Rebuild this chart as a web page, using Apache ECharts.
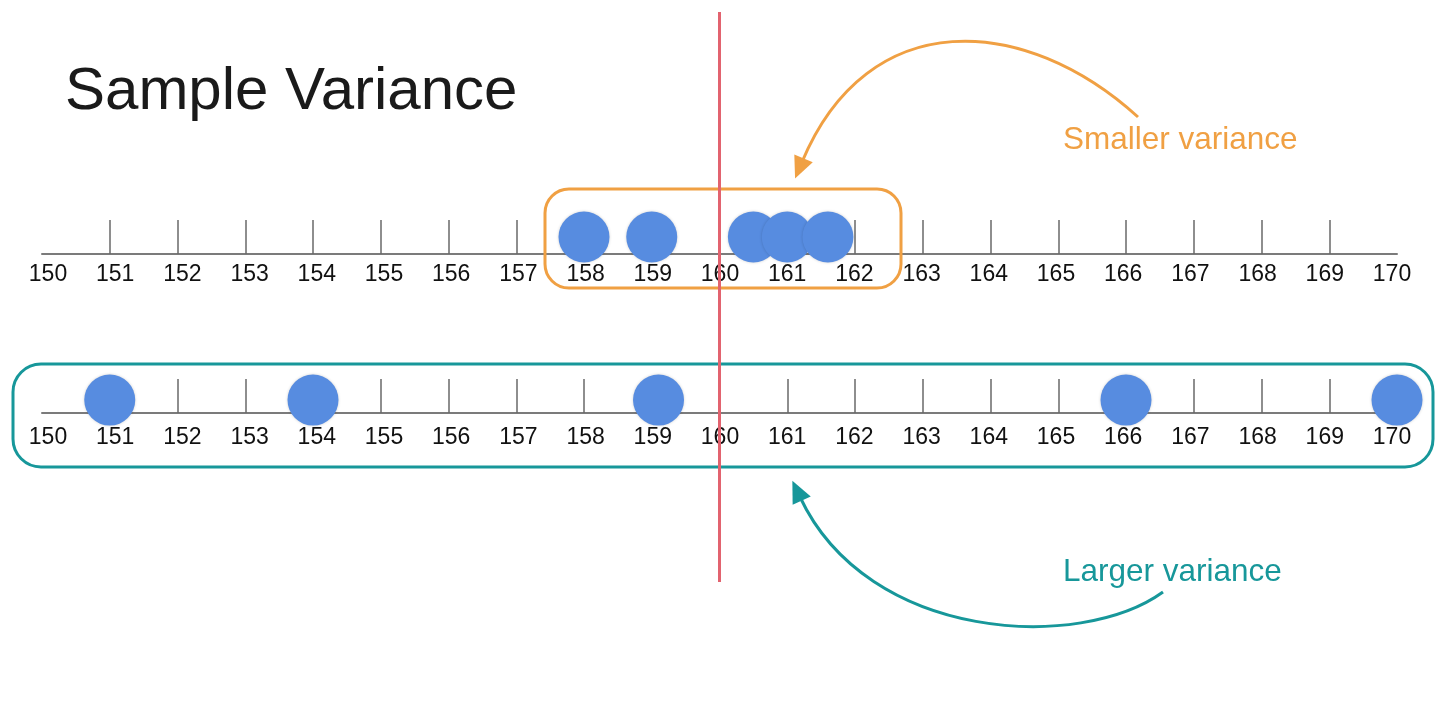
<!DOCTYPE html>
<html>
<head>
<meta charset="utf-8">
<title>Sample Variance</title>
<script src="https://cdn.jsdelivr.net/npm/echarts@6/dist/echarts.min.js"></script>
<style>
  html, body { margin: 0; padding: 0; background: #fff; }
  #chart { width: 1440px; height: 710px; }
</style>
</head>
<body>
<div id="chart"></div>
<script>
// number line labels and the tick marks drawn above the line (no tick at the ends)
const tickLabels = [150, 151, 152, 153, 154, 155, 156, 157, 158, 159, 160,
  161, 162, 163, 164, 165, 166, 167, 168, 169, 170];
const tickMarks = [151, 152, 153, 154, 155, 156, 157, 158, 159, 160,
  161, 162, 163, 164, 165, 166, 167, 168, 169];

// the two samples (both average to ~160)
const smallerVariance = [158, 159, 160.5, 161, 161.6];
const largerVariance = [151, 154, 159.1, 166, 170];
const sampleMean = 160;

const FONT = 'Liberation Sans, Arial, Helvetica, sans-serif';
const ORANGE = '#f0a043';
const TEAL = '#17979a';
const DOT = '#578ce0';

const chart = echarts.init(document.getElementById('chart'));

// line + ticks (labels are drawn by a twin axis, slightly narrower like the slide)
const numberLine = gridIndex => ({
  type: 'value',
  gridIndex: gridIndex,
  min: 150,
  max: 170,
  interval: 1,
  position: 'bottom',
  axisLine: { show: true, onZero: false, lineStyle: { color: '#7b7b7b', width: 2 } },
  axisTick: {
    show: true,
    inside: true,
    length: 34,
    customValues: tickMarks,
    lineStyle: { color: '#6a6a6a', width: 1.5 }
  },
  axisLabel: { show: false },
  splitLine: { show: false }
});

const labelLine = (gridIndex, labelMargin) => ({
  type: 'value',
  gridIndex: gridIndex,
  min: 150,
  max: 170,
  interval: 1,
  position: 'bottom',
  axisLine: { show: false },
  axisTick: { show: false },
  axisLabel: {
    customValues: tickLabels,
    margin: labelMargin,
    color: '#111',
    fontSize: 23,
    fontFamily: FONT,
    showMinLabel: true,
    showMaxLabel: true
  },
  splitLine: { show: false }
});

const hiddenY = gridIndex => ({ type: 'value', gridIndex: gridIndex, min: 0, max: 1, show: false });

const dots = (axisIndex, values, level) => ({
  type: 'scatter',
  xAxisIndex: axisIndex,
  yAxisIndex: axisIndex,
  data: values.map(v => [v, level]),
  symbolSize: 51,
  itemStyle: { color: DOT, opacity: 1, shadowBlur: 3, shadowColor: 'rgba(0,0,0,0.18)' },
  emphasis: { disabled: true },
  silent: true
});

const option = {
  backgroundColor: '#ffffff',
  animation: false,
  grid: [
    { left: 42, width: 1355, top: 220, height: 34 },
    { left: 42, width: 1355, top: 379, height: 34 },
    { left: 48, width: 1344, top: 220, height: 34 },
    { left: 48, width: 1344, top: 379, height: 34 }
  ],
  xAxis: [numberLine(0), numberLine(1), labelLine(2, 9), labelLine(3, 13)],
  yAxis: [hiddenY(0), hiddenY(1), hiddenY(2), hiddenY(3)],
  series: [
    dots(0, smallerVariance, 0.5),
    dots(1, largerVariance, 0.38)
  ]
};

chart.setOption(option);

function arrowHead(tipX, tipY, fromX, fromY, len, half) {
  const dx = tipX - fromX, dy = tipY - fromY;
  const d = Math.hypot(dx, dy);
  const ux = dx / d, uy = dy / d;
  const bx = tipX - ux * len, by = tipY - uy * len;
  return [[tipX, tipY], [bx - uy * half, by + ux * half], [bx + uy * half, by - ux * half]];
}

function curvedArrow(p0, p1, p2, p3, color) {
  const dx = p3[0] - p2[0], dy = p3[1] - p2[1];
  const d = Math.hypot(dx, dy);
  const tip = [p3[0] + dx / d * 18, p3[1] + dy / d * 18];
  return [
    {
      type: 'bezierCurve',
      shape: { x1: p0[0], y1: p0[1], cpx1: p1[0], cpy1: p1[1], cpx2: p2[0], cpy2: p2[1], x2: p3[0], y2: p3[1] },
      style: { stroke: color, lineWidth: 3, fill: null },
      z: 10
    },
    {
      type: 'polygon',
      shape: { points: arrowHead(tip[0], tip[1], p3[0], p3[1], 22, 10) },
      style: { fill: color },
      z: 10
    }
  ];
}

const meanX = chart.convertToPixel({ xAxisIndex: 0 }, sampleMean);

chart.setOption({
  graphic: [
    {
      type: 'text', x: 65, y: 92,
      style: { text: 'Sample Variance', font: '60px ' + FONT, fill: '#1a1a1a', verticalAlign: 'middle' },
      z: 10
    },
    {
      type: 'text', x: 1063, y: 140,
      style: { text: 'Smaller variance', font: '31.5px ' + FONT, fill: ORANGE, verticalAlign: 'middle' },
      z: 10
    },
    {
      type: 'text', x: 1063, y: 572,
      style: { text: 'Larger variance', font: '31.5px ' + FONT, fill: TEAL, verticalAlign: 'middle' },
      z: 10
    },
    {
      type: 'rect',
      shape: { x: 545, y: 189, width: 356, height: 99, r: 24 },
      style: { fill: null, stroke: ORANGE, lineWidth: 3 },
      z: 5
    },
    {
      type: 'rect',
      shape: { x: 13, y: 364, width: 1420, height: 103, r: 28 },
      style: { fill: null, stroke: TEAL, lineWidth: 3 },
      z: 5
    },
    ...curvedArrow([1138, 117], [1025, 14], [868, 4], [802, 162], ORANGE),
    ...curvedArrow([1163, 592], [1080, 652], [868, 642], [800, 497], TEAL),
    {
      type: 'line',
      shape: { x1: meanX, y1: 12, x2: meanX, y2: 582 },
      style: { stroke: '#e2636f', lineWidth: 3 },
      z: 20
    }
  ]
});

window.addEventListener('resize', () => chart.resize());
</script>
</body>
</html>
